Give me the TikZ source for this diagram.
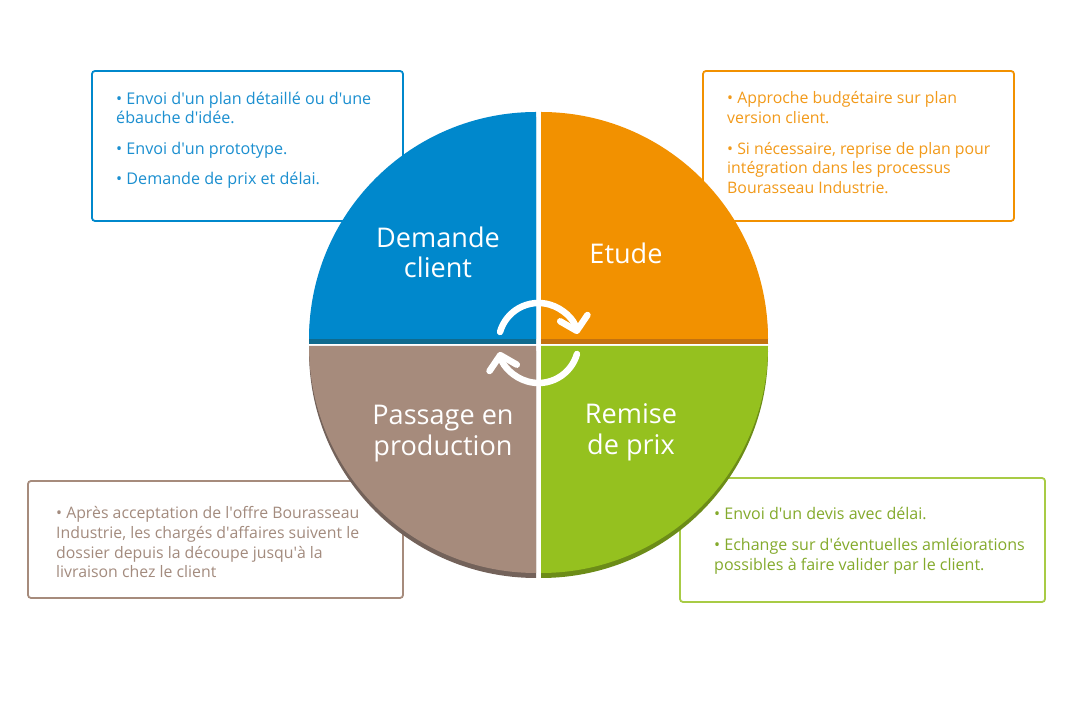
\documentclass[tikz,border=0pt]{standalone}
\usepackage{fontspec}
\setmainfont{Open Sans}
\usetikzlibrary{arrows.meta}
\definecolor{cblue}{HTML}{0088CC}
\definecolor{cblueD}{HTML}{0F6A8E}
\definecolor{corange}{HTML}{F29100}
\definecolor{corangeD}{HTML}{C4720F}
\definecolor{cgreen}{HTML}{95C11F}
\definecolor{cgreenD}{HTML}{6C8C18}
\definecolor{cbrown}{HTML}{A68B7C}
\definecolor{cbrownD}{HTML}{73625A}
\definecolor{tblue}{HTML}{1B8FD0}
\definecolor{torange}{HTML}{F29A1A}
\definecolor{tbrown}{HTML}{A38B7E}
\definecolor{tgreen}{HTML}{84AA2C}
\definecolor{bgreen}{HTML}{A8CB45}
\newcommand{\myq}{\textquotesingle}
\newcommand{\pg}{11bp}
\tikzset{
  infobox/.style={line width=1.8bp, rounded corners=3bp, fill=white},
  infotext/.style={inner sep=0pt, align=left, anchor=north west},
  fsz/.style={font={\fontsize{#1}{19.7}\selectfont}},
  qlabel/.style={inner sep=0pt, align=center, text=white,
    font={\fontsize{27.2}{29.5}\selectfont}},
  qlabelb/.style={qlabel, font={\fontsize{27.2}{30.5}\selectfont}},
  cyc/.style={white, line width=6.5bp, line cap=round,
    -{Straight Barb[length=13bp,width=28bp,round]}}
}
\begin{document}
\begin{tikzpicture}[x=1bp,y=1bp]
\useasboundingbox (0,0) rectangle (1076,710);
% boxes
\draw[infobox, draw=cblue] (92,489) rectangle (403,639);
\draw[infobox, draw=corange] (703,489) rectangle (1014,639);
\draw[infobox, draw=cbrown] (28,112) rectangle (403,229);
\draw[infobox, draw=bgreen] (680,108) rectangle (1045,232);
% quadrants: dark copies
\fill[cblueD] (536,366) -- (309,366) arc[start angle=180,end angle=90,radius=227] -- cycle;
\fill[corangeD] (541,366) -- (541,593) arc[start angle=90,end angle=0,radius=227] -- cycle;
\fill[cbrownD] (536,359) -- (309,359) arc[start angle=180,end angle=270,radius=227] -- cycle;
\fill[cgreenD] (541,359) -- (768,359) arc[start angle=0,end angle=-90,radius=227] -- cycle;
% quadrants: light
\fill[cblue] (536,371) -- (309,371) arc[start angle=180,end angle=90,radius=227] -- cycle;
\fill[corange] (541,371) -- (541,598) arc[start angle=90,end angle=0,radius=227] -- cycle;
\fill[cbrown] (536,364) -- (309,364) arc[start angle=180,end angle=270,radius=227] -- cycle;
\fill[cgreen] (541,364) -- (768,364) arc[start angle=0,end angle=-90,radius=227] -- cycle;
% labels
\node[qlabel] (l1) at (438,457.5) {Demande\\client};
\node[qlabel] (l2) at (626,457) {Etude};
\node[qlabelb] (l3) at (443,276.5) {Passage en\\production};
\node[qlabelb] (l4) at (631,277.5) {Remise\\de prix};
% cycle arrows
\coordinate (c) at (538.5,367);
\draw[cyc] (c) ++(164:40) arc[start angle=164,end angle=13,radius=40];
\draw[cyc] (c) ++(-16:40) arc[start angle=-16,end angle=-167,radius=40];
% texts
\node[infotext, fsz=16.2, text=tblue] (t1) at (116,618.5) {• Envoi d\myq un plan détaillé ou d\myq une\\ébauche d\myq idée.\\[\pg]• Envoi d\myq un prototype.\\[\pg]• Demande de prix et délai.};
\node[infotext, fsz=15.9, text=torange] (t2) at (727,618.5) {• Approche budgétaire sur plan\\version client.\\[\pg]• Si nécessaire, reprise de plan pour\\intégration dans les processus\\Bourasseau Industrie.};
\node[infotext, fsz=15.9, text=tbrown] (t3) at (56,203.5) {• Après acceptation de l\myq offre Bourasseau\\Industrie, les chargés d\myq affaires suivent le\\dossier depuis la découpe jusqu\myq à la\\livraison chez le client};
\node[infotext, fsz=16.1, text=tgreen] (t4) at (714,202.5) {• Envoi d\myq un devis avec délai.\\[\pg]• Echange sur d\myq éventuelles amléiorations\\possibles à faire valider par le client.};
\end{tikzpicture}
\end{document}
